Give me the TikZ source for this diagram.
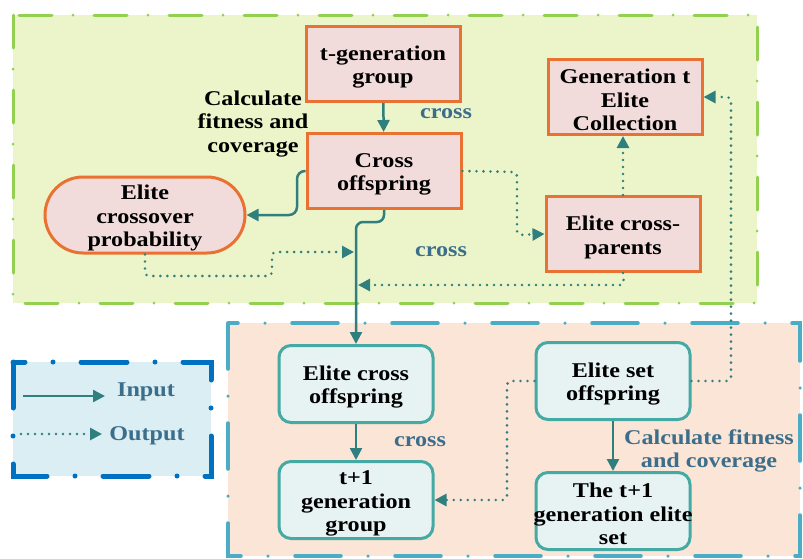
\documentclass[tikz,border=0pt]{standalone}
\usepackage{fontspec}
\setmainfont{Liberation Serif}[FakeStretch=1.15]
\usetikzlibrary{arrows.meta,shapes.misc}

\definecolor{greenb}{HTML}{92D050}
\definecolor{greenf}{HTML}{EBF5C9}
\definecolor{peachf}{HTML}{FBE5D6}
\definecolor{peachb}{HTML}{4BACC6}
\definecolor{legf}{HTML}{DAEEF3}
\definecolor{legb}{HTML}{0070C0}
\definecolor{ored}{HTML}{E97132}
\definecolor{pinkf}{HTML}{F2DCDB}
\definecolor{tealb}{HTML}{45A9A4}
\definecolor{tealf}{HTML}{E7F3F3}
\definecolor{arrc}{HTML}{2F7F7F}
\definecolor{labc}{HTML}{3C6E8C}

% tall invisible strut that lowers box text a little
\newcommand{\bxs}{\rule{0pt}{21pt}}

\begin{document}
\begin{tikzpicture}[x=1pt,y=-1pt,
  every node/.style={font=\fontsize{21}{23.5}\selectfont\bfseries, align=center, inner sep=0pt},
  onode/.style={draw=ored, fill=pinkf, line width=3pt, minimum width=154pt, minimum height=75pt},
  tnode/.style={draw=tealb, fill=tealf, line width=3pt, rounded corners=12pt, minimum width=154pt, minimum height=77pt},
  arr/.style={draw=arrc, line width=2.5pt, -{Triangle[length=12pt,width=12pt]}},
  dotarr/.style={draw=arrc, line width=2.8pt, dash pattern=on 0pt off 7pt, line cap=round, -{Triangle[length=12pt,width=12pt]}},
  lab/.style={text=labc},
  region/.style={line cap=round},
]
\useasboundingbox (0,0) rectangle (803,558);

% regions
\fill[greenf] (13,15) rectangle (757,303);
\draw[region, greenb, line width=3pt, dash pattern=on 33pt off 21pt on 0pt off 21pt] (13,15) rectangle (757,303);
\fill[peachf] (228,323) rectangle (800,556);
\draw[region, peachb, line width=3.5pt, dash pattern=on 46pt off 27pt on 0pt off 27pt] (228,323) rectangle (800,556);
\fill[legf] (13,362) rectangle (211,476);
\draw[region, legb, line width=5pt, dash pattern=on 46pt off 28pt on 0pt off 28pt] (13,362) rectangle (211,476);

% upper stage
\node[onode] (tg) at (383,64) {\bxs t-generation\\group};
\node[onode] (co) at (384,171) {\bxs Cross\\offspring};
\node[draw=ored, fill=pinkf, line width=3pt, rounded rectangle, minimum width=200pt, minimum height=76pt] (ecp) at (145,215) {\bxs Elite\\crossover\\probability};
\node[onode] (gtc) at (625,97) {\bxs Generation t\\Elite\\Collection};
\node[onode] (ecpar) at (623,234) {\bxs Elite cross-\\parents};

% lower stage
\node[tnode] (eco) at (356,384) {\bxs Elite cross\\offspring};
\node[tnode] (tg1) at (356,500) {\bxs t+1\\generation\\group};
\node[tnode] (eso) at (613,381) {\bxs Elite set\\offspring};
\node[tnode] (tes) at (613,511) {\bxs The t+1\\\makebox[0pt]{generation elite}\\set};

% labels
\node (calc1) at (253,124) {Calculate\\fitness and\\coverage};
\node[lab] (x1) at (446,114) {cross};
\node[lab] (x2) at (441,252) {cross};
\node[lab] (x3) at (420,442) {cross};
\node[lab] (calc2) at (709,451) {Calculate fitness\\and coverage};

% solid connectors
\draw[arr] (tg) -- (co);
\draw[arr, rounded corners=8pt] (co.west) -- (297,171) |- (ecp.east);
\draw[arr, rounded corners=7pt] (co.south) -- ++(0,12) -| (eco.north);
\draw[arr] (eco) -- (tg1);
\draw[arr] (eso) -- (tes);

% dotted connectors
\coordinate (m1) at (354,252);
\coordinate (m2) at (358,285);
\draw[dotarr, rounded corners=4pt] (ecp.south) -- (145,276) -- (272,276) -- (272,252) -- (m1);
\draw[dotarr, rounded corners=4pt] (ecpar.south) -- (624,285) -- (m2);
\draw[dotarr, rounded corners=4pt] (co.east) -- (517,172) -- (517,235) -- (ecpar.west);
\draw[dotarr] (ecpar.north) -- (ecpar.north |- gtc.south);
\draw[dotarr, rounded corners=4pt] (eso.east) -- (731,381) -- (731,97) -- (gtc.east);
\draw[dotarr, rounded corners=4pt] (eso.west) -- (507,381) -- (507,500) -- (tg1.east);

% legend
\coordinate (li1) at (23,396);
\coordinate (li2) at (105,396);
\coordinate (lo1) at (21,434);
\coordinate (lo2) at (102,434);
\draw[arr] (li1) -- (li2);
\draw[dotarr] (lo1) -- (lo2);
\node[lab] (tin) at (146,392) {Input};
\node[lab] (tout) at (147,436) {Output};
\end{tikzpicture}
\end{document}
